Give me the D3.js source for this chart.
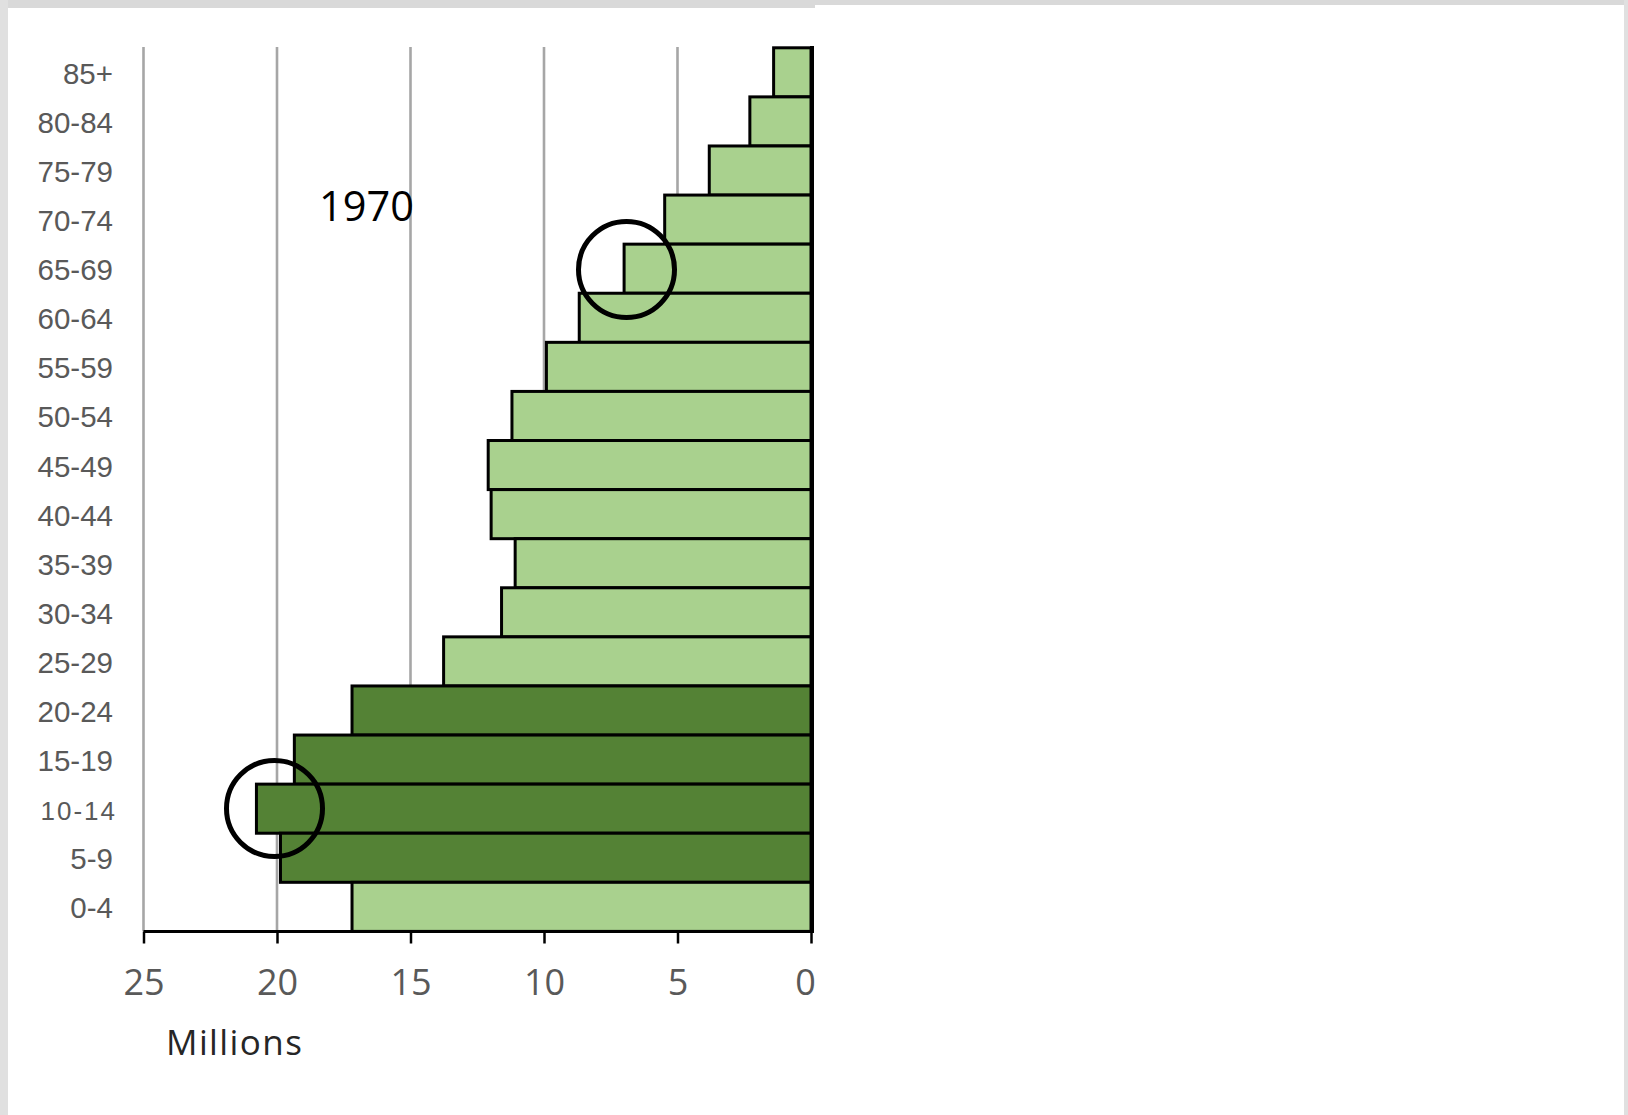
<!DOCTYPE html>
<html>
<head>
<meta charset="utf-8">
<script src="https://cdn.jsdelivr.net/npm/d3@7"></script>
<style>
  html, body { margin: 0; padding: 0; background: #ffffff; }
  svg { display: block; }
</style>
</head>
<body>
<svg id="chart" width="1628" height="1115"></svg>
<script>
// ---- data ----
const ageGroups = ["85+", "80-84", "75-79", "70-74", "65-69", "60-64", "55-59", "50-54",
  "45-49", "40-44", "35-39", "30-34", "25-29", "20-24", "15-19", "10-14", "5-9", "0-4"];
const population = [1.40, 2.29, 3.81, 5.48, 7.00, 8.68, 9.91, 11.20,
  12.09, 11.98, 11.08, 11.59, 13.76, 17.19, 19.35, 20.77, 19.87, 17.19];
const highlighted = ["20-24", "15-19", "10-14", "5-9"];
const xTicks = [25, 20, 15, 10, 5, 0];
const circledGroups = [{ group: "65-69", value: 7.0 }, { group: "10-14", value: 20.2 }];
const yearLabel = "1970";
const axisTitle = "Millions";

// ---- layout ----
const svg = d3.select("#chart");
const W = 1628, H = 1115;

// frame
svg.append("rect").attr("x", 0).attr("y", 0).attr("width", W).attr("height", H).attr("fill", "#ffffff");
svg.append("rect").attr("x", 0).attr("y", 0).attr("width", 815).attr("height", 8).attr("fill", "#d9d9d9");
svg.append("rect").attr("x", 815).attr("y", 0).attr("width", W - 815).attr("height", 5).attr("fill", "#d9d9d9");
svg.append("rect").attr("x", 0).attr("y", 0).attr("width", 8).attr("height", H).attr("fill", "#e0e0e0");
svg.append("rect").attr("x", W - 4).attr("y", 0).attr("width", 4).attr("height", H).attr("fill", "#e0e0e0");

const x = d3.scaleLinear().domain([25, 0]).range([143.5, 811]);
const y = d3.scaleBand().domain(ageGroups).range([47.8, 931.4]).padding(0);

const g = svg.append("g");

// gridlines
g.selectAll("line.grid").data(xTicks.filter(t => t !== 0)).join("line")
  .attr("class", "grid")
  .attr("x1", d => x(d)).attr("x2", d => x(d))
  .attr("y1", 47).attr("y2", 931)
  .attr("stroke", "#a6a6a6").attr("stroke-width", 2.6);

// year label
g.append("text").attr("x", 319).attr("y", 221)
  .attr("font-family", "'Open Sans', sans-serif").attr("font-size", 41.5)
  .attr("fill", "#000000").text(yearLabel);

// bars
const data = ageGroups.map((a, i) => ({ group: a, value: population[i] }));
g.selectAll("rect.bar").data(data).join("rect")
  .attr("class", "bar")
  .attr("x", d => x(d.value))
  .attr("y", d => y(d.group))
  .attr("width", d => x(0) - x(d.value))
  .attr("height", y.bandwidth())
  .attr("fill", d => highlighted.includes(d.group) ? "#548235" : "#a9d18e")
  .attr("stroke", "#000000").attr("stroke-width", 3);

// vertical axis line at 0
g.append("line").attr("x1", x(0) + 1).attr("x2", x(0) + 1)
  .attr("y1", 46).attr("y2", 933)
  .attr("stroke", "#000000").attr("stroke-width", 4);

// bottom axis
const xAxis = d3.axisBottom(x).tickValues(xTicks).tickSize(12).tickSizeOuter(0).tickFormat(d3.format("d"));
const ax = svg.append("g").attr("transform", "translate(0,931.5)").call(xAxis);
ax.select(".domain").attr("stroke", "#000000").attr("stroke-width", 3)
  .attr("d", `M${x(25)},0H${x(0) + 2}`);
ax.selectAll(".tick line").attr("stroke", "#000000").attr("stroke-width", 2.5);
ax.selectAll(".tick text")
  .attr("y", 63.5).attr("dy", "0")
  .attr("x", d => d === 0 ? -6 : 0)
  .attr("font-family", "'Open Sans', sans-serif").attr("font-size", 36)
  .attr("fill", "#595959");

// y labels
g.selectAll("text.ylab").data(ageGroups).join("text")
  .attr("class", "ylab")
  .attr("x", d => d === "10-14" ? 117 : 113)
  .attr("y", d => y(d) + y.bandwidth() / 2 + 11.5)
  .attr("text-anchor", "end")
  .attr("font-family", "'Liberation Sans', Arial, sans-serif")
  .attr("font-size", d => d === "10-14" ? 26 : 29.5)
  .attr("letter-spacing", d => d === "10-14" ? "2px" : "0px")
  .attr("fill", "#595959")
  .text(d => d);

// axis title
svg.append("text").attr("x", 166).attr("y", 1055)
  .attr("font-family", "'Open Sans', sans-serif").attr("font-size", 35)
  .attr("letter-spacing", "1.4px")
  .attr("fill", "#262626").text(axisTitle);

// circles
const circleCenters = [{ cx: 626.5, cy: 269.5 }, { cx: 274.5, cy: 808.5 }];
g.selectAll("circle.hl").data(circledGroups).join("circle")
  .attr("class", "hl")
  .attr("cx", (d, i) => circleCenters[i].cx)
  .attr("cy", (d, i) => circleCenters[i].cy)
  .attr("r", 48)
  .attr("fill", "none").attr("stroke", "#000000").attr("stroke-width", 5);
</script>
</body>
</html>
